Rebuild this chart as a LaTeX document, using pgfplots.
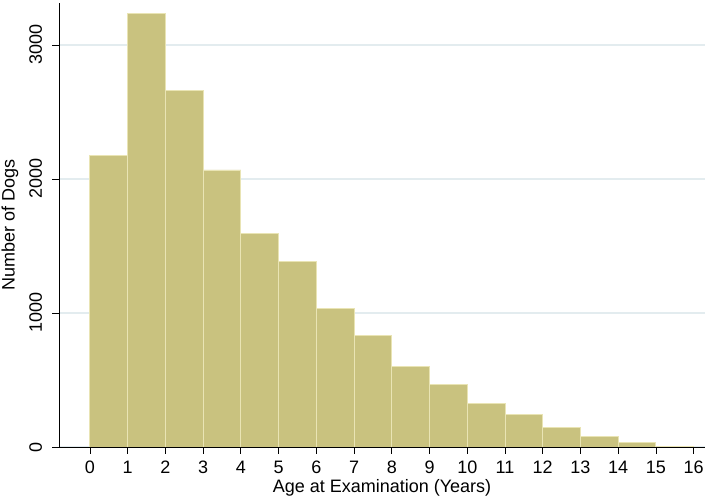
\documentclass[border=0pt]{standalone}
\usepackage{fontspec}
\setmainfont{Liberation Sans}
\usepackage{pgfplots}
\pgfplotsset{compat=1.18}

\definecolor{barfill}{HTML}{C9C27F}
\definecolor{baredge}{HTML}{E9E4B4}
\definecolor{gridc}{HTML}{E3ECEF}

\begin{document}
\fontsize{13.5pt}{15pt}\selectfont
\begin{tikzpicture}
	\begin{axis}[
			scale only axis,
			width=484.5pt,
			height=333pt,
			xmin=-0.82, xmax=16.3,
			ymin=0, ymax=3313,
			axis x line*=bottom,
			axis y line*=left,
			axis line style={black, line width=0.6pt},
			xtick={0,1,...,16},
			ytick={0,1000,2000,3000},
			tick align=outside,
			major tick length=5pt,
			tick style={black, line width=0.6pt},
			ymajorgrids=true,
			grid style={gridc, line width=0.9pt},
			yticklabel style={rotate=90, anchor=near yticklabel},
			yticklabel shift=3pt,
			xticklabel shift=1pt,
			/pgf/number format/assume math mode=true,
			scaled y ticks=false,
			yticklabel={\pgfmathprintnumber[fixed, 1000 sep={}]{\tick}},
			xlabel={Age at Examination (Years)},
			ylabel={Number of Dogs},
			xlabel style={yshift=5pt},
			ylabel style={yshift=-1pt},
		]

		% histogram of ages, one-year bins
		\addplot[ybar interval, fill=barfill, draw=baredge, line width=0.7pt] coordinates {
				(0,2174) (1,3234) (2,2662) (3,2067) (4,1592) (5,1383) (6,1032) (7,834)
				(8,604) (9,470) (10,328) (11,241) (12,142) (13,77) (14,37) (15,4) (16,4)
			};

	\end{axis}
	\pgfresetboundingbox
	\path ([xshift=-44.25pt, yshift=-38.25pt]current axis.south west)
		rectangle ([xshift=3pt, yshift=2.25pt]current axis.north east);
\end{tikzpicture}
\end{document}
